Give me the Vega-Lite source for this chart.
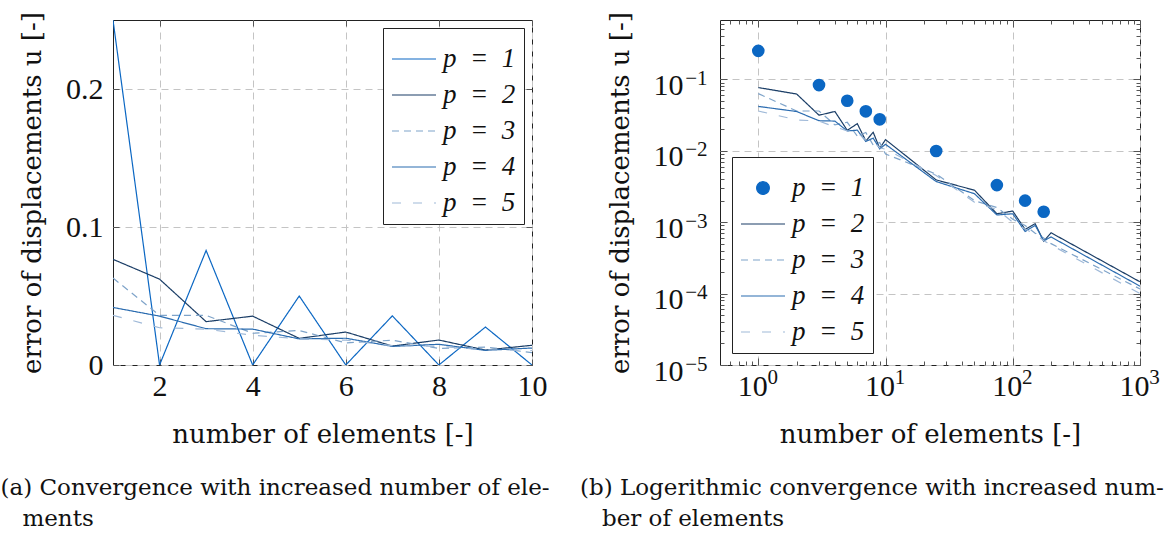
{
  "$schema": "https://vega.github.io/schema/vega-lite/v6.json",
  "background": "white",
  "padding": {"left": 0, "top": 11, "right": 0, "bottom": 0},
  "bounds": "flush",
  "spacing": 188,
  "datasets": {
    "conv": [
      {"n": 1, "err": 0.25, "p": "1"}, {"n": 2, "err": 0, "p": "1"}, {"n": 3, "err": 0.083, "p": "1"}, {"n": 4, "err": 0, "p": "1"}, {"n": 5, "err": 0.05, "p": "1"}, {"n": 6, "err": 0, "p": "1"}, {"n": 7, "err": 0.0356, "p": "1"}, {"n": 8, "err": 0, "p": "1"}, {"n": 9, "err": 0.0275, "p": "1"}, {"n": 10, "err": 0, "p": "1"}, {"n": 25, "err": 0.0099, "p": "1"}, {"n": 75, "err": 0.0033, "p": "1"}, {"n": 125, "err": 0.002, "p": "1"}, {"n": 175, "err": 0.0014, "p": "1"},
      {"n": 1, "err": 0.0766, "p": "2"}, {"n": 2, "err": 0.0622, "p": "2"}, {"n": 3, "err": 0.0314, "p": "2"}, {"n": 4, "err": 0.0354, "p": "2"}, {"n": 5, "err": 0.0193, "p": "2"}, {"n": 6, "err": 0.0239, "p": "2"}, {"n": 7, "err": 0.0137, "p": "2"}, {"n": 8, "err": 0.0181, "p": "2"}, {"n": 9, "err": 0.0108, "p": "2"}, {"n": 10, "err": 0.0143, "p": "2"}, {"n": 25, "err": 0.0039, "p": "2"}, {"n": 50, "err": 0.0028, "p": "2"}, {"n": 75, "err": 0.00131, "p": "2"}, {"n": 100, "err": 0.00143, "p": "2"}, {"n": 125, "err": 0.00079, "p": "2"}, {"n": 150, "err": 0.00095, "p": "2"}, {"n": 175, "err": 0.00054, "p": "2"}, {"n": 200, "err": 0.00071, "p": "2"}, {"n": 1000, "err": 0.000146, "p": "2"},
      {"n": 1, "err": 0.063, "p": "3"}, {"n": 2, "err": 0.036, "p": "3"}, {"n": 3, "err": 0.036, "p": "3"}, {"n": 4, "err": 0.023, "p": "3"}, {"n": 5, "err": 0.025, "p": "3"}, {"n": 6, "err": 0.016, "p": "3"}, {"n": 7, "err": 0.018, "p": "3"}, {"n": 8, "err": 0.012, "p": "3"}, {"n": 9, "err": 0.013, "p": "3"}, {"n": 10, "err": 0.009, "p": "3"}, {"n": 25, "err": 0.0047, "p": "3"}, {"n": 50, "err": 0.002, "p": "3"}, {"n": 75, "err": 0.0016, "p": "3"}, {"n": 100, "err": 0.0011, "p": "3"}, {"n": 125, "err": 0.0009, "p": "3"}, {"n": 150, "err": 0.0007, "p": "3"}, {"n": 175, "err": 0.0006, "p": "3"}, {"n": 200, "err": 0.0005, "p": "3"}, {"n": 1000, "err": 0.000116, "p": "3"},
      {"n": 1, "err": 0.0417, "p": "4"}, {"n": 2, "err": 0.0354, "p": "4"}, {"n": 3, "err": 0.0263, "p": "4"}, {"n": 4, "err": 0.026, "p": "4"}, {"n": 5, "err": 0.0189, "p": "4"}, {"n": 6, "err": 0.0194, "p": "4"}, {"n": 7, "err": 0.0135, "p": "4"}, {"n": 8, "err": 0.015, "p": "4"}, {"n": 9, "err": 0.0106, "p": "4"}, {"n": 10, "err": 0.0123, "p": "4"}, {"n": 25, "err": 0.0037, "p": "4"}, {"n": 50, "err": 0.0025, "p": "4"}, {"n": 75, "err": 0.00126, "p": "4"}, {"n": 100, "err": 0.00131, "p": "4"}, {"n": 125, "err": 0.00074, "p": "4"}, {"n": 150, "err": 0.0009, "p": "4"}, {"n": 175, "err": 0.00055, "p": "4"}, {"n": 200, "err": 0.00062, "p": "4"}, {"n": 1000, "err": 0.000127, "p": "4"},
      {"n": 1, "err": 0.036, "p": "5"}, {"n": 2, "err": 0.027, "p": "5"}, {"n": 3, "err": 0.026, "p": "5"}, {"n": 4, "err": 0.0215, "p": "5"}, {"n": 5, "err": 0.019, "p": "5"}, {"n": 6, "err": 0.018, "p": "5"}, {"n": 7, "err": 0.014, "p": "5"}, {"n": 8, "err": 0.0135, "p": "5"}, {"n": 9, "err": 0.011, "p": "5"}, {"n": 10, "err": 0.0105, "p": "5"}, {"n": 25, "err": 0.0045, "p": "5"}, {"n": 50, "err": 0.0019, "p": "5"}, {"n": 75, "err": 0.0015, "p": "5"}, {"n": 100, "err": 0.001, "p": "5"}, {"n": 125, "err": 0.0008, "p": "5"}, {"n": 150, "err": 0.00068, "p": "5"}, {"n": 175, "err": 0.00055, "p": "5"}, {"n": 200, "err": 0.00048, "p": "5"}, {"n": 1000, "err": 0.0001, "p": "5"}
    ]
  },
  "config": {
    "font": "DejaVu Serif",
    "view": {"stroke": "#222", "strokeWidth": 1},
    "axis": {
      "labelFont": "Liberation Serif", "labelFontSize": 30, "labelColor": "#111", "labelFlush": false, "labelOverlap": false,
      "titleFont": "DejaVu Serif", "titleFontSize": 26, "titleFontWeight": "normal", "titleColor": "#111",
      "gridColor": "#c4c4c4", "gridDash": [7, 5], "gridWidth": 1,
      "domain": false, "tickColor": "#555", "tickWidth": 1
    },
    "legend": {
      "labelFont": "Liberation Serif", "labelFontSize": 27, "labelFontStyle": "italic", "labelColor": "#111",
      "symbolSize": 1936, "symbolStrokeWidth": 1.2, "symbolType": "stroke",
      "rowPadding": 0, "padding": 8, "labelOffset": 6,
      "strokeColor": "#222", "fillColor": "white", "cornerRadius": 0, "offset": 8
    },
    "title": {"font": "DejaVu Serif", "fontSize": 23, "fontWeight": "normal", "color": "#111"}
  },
  "hconcat": [
    {
      "width": 419,
      "height": 345,
      "title": {"text": ["(a) Convergence with increased number of ele-", "\u200b\u00a0\u00a0\u00a0ments"], "orient": "bottom", "anchor": "start", "frame": "bounds", "dx": -19, "offset": 30, "lineHeight": 31},
      "data": {"name": "conv"},
      "transform": [{"filter": "datum.n <= 10"}],
      "layer": [
        {
          "mark": {"type": "line", "strokeWidth": 1.2, "clip": true},
          "encoding": {
            "x": {"field": "n", "type": "quantitative", "scale": {"domain": [1, 10], "nice": false, "zero": false},
                  "axis": {"orient": "bottom", "values": [2, 4, 6, 8, 10], "grid": true, "ticks": false, "labelPadding": 6, "title": "number of elements [-]", "titlePadding": 20}},
            "y": {"field": "err", "type": "quantitative", "scale": {"domain": [0, 0.25], "nice": false},
                  "axis": {"orient": "left", "values": [0, 0.1, 0.2], "format": "~g", "grid": true, "ticks": false, "labelPadding": 10, "title": "error of displacements u [-]", "titlePadding": 20}},
            "color": {"field": "p", "type": "nominal",
                      "scale": {"domain": ["1", "2", "3", "4", "5"], "range": ["#0b67c3", "#1a3d66", "#7ea3c9", "#2b6cb0", "#9fb9d8"]},
                      "legend": {"title": null, "orient": "top-right", "labelExpr": "'p\u00a0\u00a0=\u00a0\u00a0' + datum.label",
                                 "encode": {"symbols": {"update": {"strokeDash": {"signal": "datum.value === '3' ? [7,5] : datum.value === '5' ? [9,12] : [1,0]"}}}}}},
            "strokeDash": {"field": "p", "type": "nominal", "scale": {"domain": ["1", "2", "3", "4", "5"], "range": [[1, 0], [1, 0], [7, 5], [1, 0], [9, 12]]}, "legend": null}
          }
        },
        {
          "mark": {"type": "point", "opacity": 0},
          "encoding": {
            "x": {"field": "n", "type": "quantitative", "axis": {"orient": "bottom", "values": [2, 4, 6, 8, 10], "grid": false, "labels": false, "tickSize": -6, "title": null}},
            "y": {"field": "err", "type": "quantitative", "axis": {"orient": "left", "values": [0, 0.1, 0.2], "grid": false, "labels": false, "tickSize": -6, "title": null}}
          }
        },
        {
          "mark": {"type": "point", "opacity": 0},
          "encoding": {
            "x": {"field": "n", "type": "quantitative", "axis": {"orient": "top", "values": [2, 4, 6, 8, 10], "grid": false, "labels": false, "tickSize": -6, "title": null}},
            "y": {"field": "err", "type": "quantitative", "axis": {"orient": "right", "values": [0, 0.1, 0.2], "grid": false, "labels": false, "tickSize": -6, "title": null}}
          }
        }
      ],
      "resolve": {"axis": {"x": "independent", "y": "independent"}}
    },
    {
      "width": 420,
      "height": 345,
      "title": {"text": ["(b) Logerithmic convergence with increased num-", "\u200b\u00a0\u00a0\u00a0ber of elements"], "orient": "bottom", "anchor": "start", "frame": "bounds", "dx": -27, "offset": 30, "lineHeight": 31},
      "data": {"name": "conv"},
      "transform": [{"filter": "datum.err > 0"}],
      "encoding": {
        "x": {"field": "n", "type": "quantitative", "scale": {"type": "log", "domain": [0.5, 1000], "nice": false}},
        "y": {"field": "err", "type": "quantitative", "scale": {"type": "log", "domain": [0.00001, 0.676], "nice": false}}
      },
      "layer": [
        {
          "transform": [{"filter": "datum.p !== '1'"}],
          "mark": {"type": "line", "strokeWidth": 1.2, "clip": true},
          "encoding": {
            "x": {"field": "n", "type": "quantitative", "axis": {"orient": "bottom", "values": [1, 10, 100, 1000], "labelExpr": "'10'", "labelOffset": -6, "grid": true, "ticks": false, "labelPadding": 6, "title": "number of elements [-]", "titlePadding": 20}},
            "y": {"field": "err", "type": "quantitative", "axis": {"orient": "left", "values": [0.00001, 0.0001, 0.001, 0.01, 0.1], "labelExpr": "'10'", "labelOffset": 6, "grid": true, "ticks": false, "labelPadding": 37, "title": "error of displacements u [-]", "titlePadding": 20}},
            "color": {"field": "p", "type": "nominal",
                      "scale": {"domain": ["1", "2", "3", "4", "5"], "range": ["#0b67c3", "#1a3d66", "#7ea3c9", "#2b6cb0", "#9fb9d8"]},
                      "legend": {"title": null, "orient": "bottom-left", "offset": 12, "labelExpr": "'p\u00a0\u00a0=\u00a0\u00a0' + datum.label",
                                 "encode": {"symbols": {"update": {
                                   "shape": {"signal": "datum.value === '1' ? 'circle' : 'stroke'"},
                                   "size": {"signal": "datum.value === '1' ? 160 : 1936"},
                                   "fill": {"signal": "datum.value === '1' ? '#0b67c3' : 'transparent'"},
                                   "stroke": {"signal": "datum.value === '1' ? 'transparent' : datum.value === '2' ? '#1a3d66' : datum.value === '3' ? '#7ea3c9' : datum.value === '4' ? '#2b6cb0' : '#9fb9d8'"},
                                   "strokeDash": {"signal": "datum.value === '3' ? [7,5] : datum.value === '5' ? [9,12] : [1,0]"}
                                 }}}}},
            "strokeDash": {"field": "p", "type": "nominal", "scale": {"domain": ["1", "2", "3", "4", "5"], "range": [[1, 0], [1, 0], [7, 5], [1, 0], [9, 12]]}, "legend": null}
          }
        },
        {
          "transform": [{"filter": "datum.p === '1'"}],
          "mark": {"type": "circle", "size": 160, "opacity": 1},
          "encoding": {
            "color": {"field": "p", "type": "nominal", "legend": null},
            "x": {"field": "n", "type": "quantitative", "axis": {"orient": "bottom", "values": [1, 10, 100, 1000], "grid": false, "labels": false, "tickSize": -7, "title": null}},
            "y": {"field": "err", "type": "quantitative", "axis": {"orient": "left", "values": [0.00001, 0.0001, 0.001, 0.01, 0.1], "grid": false, "labels": false, "tickSize": -7, "title": null}}
          }
        },
        {
          "mark": {"type": "point", "opacity": 0},
          "encoding": {
            "x": {"field": "n", "type": "quantitative", "axis": {"orient": "bottom", "values": [0.6, 0.7, 0.8, 0.9, 2, 3, 4, 5, 6, 7, 8, 9, 20, 30, 40, 50, 60, 70, 80, 90, 200, 300, 400, 500, 600, 700, 800, 900], "grid": false, "labels": false, "tickSize": -4, "title": null}},
            "y": {"field": "err", "type": "quantitative", "axis": {"orient": "left", "values": [0.00002, 0.00003, 0.00004, 0.00005, 0.00006, 0.00007, 0.00008, 0.00009, 0.0002, 0.0003, 0.0004, 0.0005, 0.0006, 0.0007, 0.0008, 0.0009, 0.002, 0.003, 0.004, 0.005, 0.006, 0.007, 0.008, 0.009, 0.02, 0.03, 0.04, 0.05, 0.06, 0.07, 0.08, 0.09, 0.2, 0.3, 0.4, 0.5, 0.6], "grid": false, "labels": false, "tickSize": -4, "title": null}}
          }
        },
        {
          "mark": {"type": "point", "opacity": 0},
          "encoding": {
            "x": {"field": "n", "type": "quantitative", "axis": {"orient": "top", "values": [1, 10, 100, 1000], "grid": false, "labels": false, "tickSize": -7, "title": null}},
            "y": {"field": "err", "type": "quantitative", "axis": {"orient": "right", "values": [0.00001, 0.0001, 0.001, 0.01, 0.1], "grid": false, "labels": false, "tickSize": -7, "title": null}}
          }
        },
        {
          "mark": {"type": "point", "opacity": 0},
          "encoding": {
            "x": {"field": "n", "type": "quantitative", "axis": {"orient": "top", "values": [0.6, 0.7, 0.8, 0.9, 2, 3, 4, 5, 6, 7, 8, 9, 20, 30, 40, 50, 60, 70, 80, 90, 200, 300, 400, 500, 600, 700, 800, 900], "grid": false, "labels": false, "tickSize": -4, "title": null}},
            "y": {"field": "err", "type": "quantitative", "axis": {"orient": "right", "values": [0.00002, 0.00003, 0.00004, 0.00005, 0.00006, 0.00007, 0.00008, 0.00009, 0.0002, 0.0003, 0.0004, 0.0005, 0.0006, 0.0007, 0.0008, 0.0009, 0.002, 0.003, 0.004, 0.005, 0.006, 0.007, 0.008, 0.009, 0.02, 0.03, 0.04, 0.05, 0.06, 0.07, 0.08, 0.09, 0.2, 0.3, 0.4, 0.5, 0.6], "grid": false, "labels": false, "tickSize": -4, "title": null}}
          }
        },
        {
          "mark": {"type": "point", "opacity": 0},
          "encoding": {
            "x": {"field": "n", "type": "quantitative", "axis": {"orient": "bottom", "values": [1, 10, 100, 1000], "labelExpr": "datum.value < 2 ? '0' : datum.value < 20 ? '1' : datum.value < 200 ? '2' : '3'", "labelFontSize": 21, "labelOffset": 14, "labelPadding": 1, "grid": false, "ticks": false, "title": null}},
            "y": {"field": "err", "type": "quantitative", "axis": {"orient": "left", "values": [0.00001, 0.0001, 0.001, 0.01, 0.1], "labelExpr": "datum.value < 0.00002 ? '\u22125' : datum.value < 0.0002 ? '\u22124' : datum.value < 0.002 ? '\u22123' : datum.value < 0.02 ? '\u22122' : '\u22121'", "labelFontSize": 21, "labelAlign": "right", "labelOffset": -1, "labelPadding": 13, "grid": false, "ticks": false, "title": null}}
          }
        }
      ],
      "resolve": {"axis": {"x": "independent", "y": "independent"}}
    }
  ]
}
